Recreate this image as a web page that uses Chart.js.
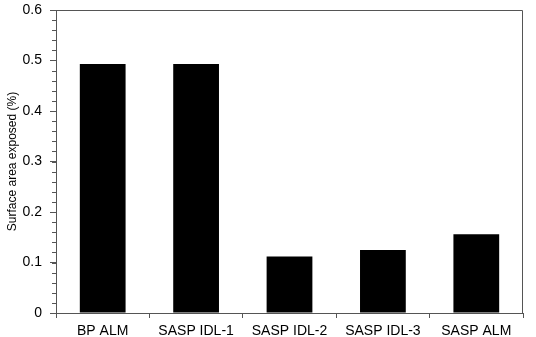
<!DOCTYPE html>
<html>
<head>
<meta charset="utf-8">
<script src="https://cdn.jsdelivr.net/npm/chart.js@4/dist/chart.umd.min.js"></script>
<style>
  html, body { margin: 0; padding: 0; background: #fff; }
  #wrap { width: 536px; height: 337px; }
</style>
</head>
<body>
<div id="wrap"><canvas id="chart" width="536" height="337"></canvas></div>
<script>
const categories = ['BP ALM', 'SASP IDL-1', 'SASP IDL-2', 'SASP IDL-3', 'SASP ALM'];
const exposed = [0.493, 0.493, 0.112, 0.125, 0.156];
const yTicks = [0, 0.1, 0.2, 0.3, 0.4, 0.5, 0.6];
const yMinorStep = 0.02;

const axisColor = '#555555';

// box border + minor ticks on the y axis
const framePlugin = {
	id: 'frame',
	afterDraw(chart) {
		const ctx = chart.ctx;
		const a = chart.chartArea;
		const y = chart.scales.y;
		ctx.save();
		ctx.strokeStyle = axisColor;
		ctx.lineWidth = 1;
		ctx.beginPath();
		ctx.moveTo(a.left, a.top + 0.5);
		ctx.lineTo(a.right - 0.5, a.top + 0.5);
		ctx.lineTo(a.right - 0.5, a.bottom);
		ctx.stroke();
		ctx.beginPath();
		const max = yTicks[yTicks.length - 1];
		for (let v = 0; v <= max + 1e-9; v += yMinorStep) {
			const py = Math.round(y.getPixelForValue(v)) + 0.5;
			ctx.moveTo(a.left - 4, py);
			ctx.lineTo(a.left, py);
		}
		ctx.stroke();
		ctx.restore();
	}
};

new Chart(document.getElementById('chart'), {
	type: 'bar',
	data: {
		labels: categories,
		datasets: [{
			data: exposed,
			backgroundColor: '#000000',
			borderWidth: 0,
			categoryPercentage: 1,
			barPercentage: 0.49
		}]
	},
	options: {
		responsive: false,
		animation: false,
		layout: { padding: { top: 10, right: 13, bottom: 0, left: 0 } },
		plugins: {
			legend: { display: false },
			tooltip: { enabled: false }
		},
		scales: {
			x: {
				grid: { drawOnChartArea: false, drawTicks: true, tickLength: 5, color: axisColor },
				border: { display: true, color: axisColor },
				ticks: {
					color: '#000',
					padding: 5,
					maxRotation: 0,
					font: { family: 'Liberation Sans', size: 14 }
				},
				afterFit(scale) { scale.height = 24; }
			},
			y: {
				min: 0,
				max: 0.6,
				grid: { drawOnChartArea: false, drawTicks: true, tickLength: 6, color: axisColor },
				border: { display: true, color: axisColor },
				ticks: {
					stepSize: 0.1,
					color: '#000',
					padding: 8,
					font: { family: 'Liberation Sans', size: 14, lineHeight: 0.1 },
					callback: v => Number(v.toFixed(1)).toString()
				},
				title: {
					display: true,
					text: 'Surface area exposed (%)',
					color: '#000',
					padding: { top: 5, bottom: 0 },
					font: { family: 'Liberation Sans', size: 12 }
				},
				afterFit(scale) { scale.width = 56; }
			}
		}
	},
	plugins: [framePlugin]
});
</script>
</body>
</html>
